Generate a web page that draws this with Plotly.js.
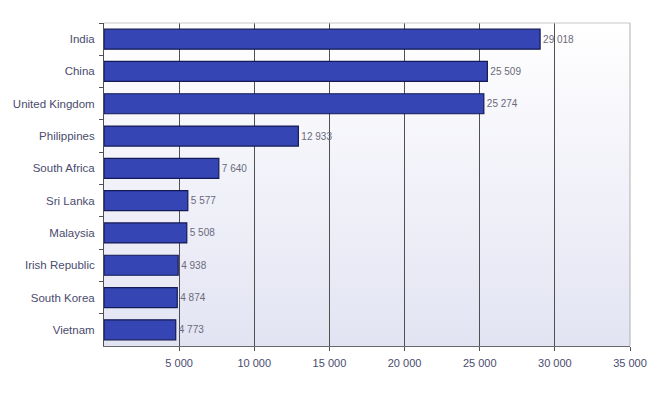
<!DOCTYPE html>
<html>
<head>
<meta charset="utf-8">
<script src="https://cdn.plot.ly/plotly-3.0.1.min.js"></script>
<style>html,body{margin:0;padding:0;background:#fff;}#chart{width:658px;height:393px;}</style>
</head>
<body>
<div id="chart"></div>
<script>
const countries = ["India","China","United Kingdom","Philippines","South Africa","Sri Lanka","Malaysia","Irish Republic","South Korea","Vietnam"];
const values = [29018,25509,25274,12933,7640,5577,5508,4938,4874,4773];
const xTicks = [5000,10000,15000,20000,25000,30000,35000];
const xTickLabels = ["5 000","10 000","15 000","20 000","25 000","30 000","35 000"];

const fmt = v => String(v).replace(/\B(?=(\d{3})+(?!\d))/g, " ");

const bgSvg = '<svg xmlns="http://www.w3.org/2000/svg" width="10" height="100" preserveAspectRatio="none"><defs><linearGradient id="g" x1="0" y1="0" x2="0" y2="1"><stop offset="0" stop-color="#ffffff"/><stop offset="1" stop-color="#e3e4f3"/></linearGradient></defs><rect width="10" height="100" fill="url(#g)"/></svg>';
const bgUri = 'data:image/svg+xml;base64,' + btoa(bgSvg);

const trace = {
  type: 'bar',
  orientation: 'h',
  y: countries,
  x: values,
  text: values.map(fmt),
  textposition: 'outside',
  cliponaxis: false,
  textfont: {family: 'Liberation Sans, Arial, sans-serif', size: 10, color: '#6a6a7a'},
  marker: {color: '#3545b4', line: {color: '#141a55', width: 1.2}},
  hoverinfo: 'none'
};

const layout = {
  width: 658, height: 393,
  margin: {l: 104, r: 28, t: 23, b: 47},
  paper_bgcolor: '#ffffff',
  plot_bgcolor: 'rgba(0,0,0,0)',
  showlegend: false,
  bargap: 0.38,
  font: {family: 'Liberation Sans, Arial, sans-serif', size: 11, color: '#4a4c6e'},
  images: [{source: bgUri, xref: 'paper', yref: 'paper', x: 0, y: 1, sizex: 1, sizey: 1, sizing: 'stretch', layer: 'below', xanchor: 'left', yanchor: 'top'}],
  xaxis: {
    range: [0, 35000],
    tickvals: xTicks,
    ticktext: xTickLabels,
    showgrid: true,
    gridcolor: '#505050',
    gridwidth: 1,
    zeroline: false,
    showline: true,
    linecolor: '#6a6a6a',
    linewidth: 1,
    mirror: false,
    ticks: 'outside',
    ticklen: 4,
    tickcolor: '#505050',
    ticklabelstandoff: 3,
    tickfont: {size: 11, color: '#4a4c6e'}
  },
  yaxis: {
    autorange: 'reversed',
    showgrid: false,
    zeroline: false,
    showline: true,
    linecolor: '#505050',
    linewidth: 1,
    ticks: 'outside',
    tickson: 'boundaries',
    ticklen: 4,
    tickcolor: '#505050',
    ticklabelstandoff: 6,
    tickfont: {size: 11.5, color: '#4a4c6e'}
  },
  shapes: [
    {type: 'line', xref: 'paper', yref: 'paper', x0: 0, x1: 1, y0: 1, y1: 1, line: {color: '#c8c8c8', width: 1}},
    {type: 'line', xref: 'paper', yref: 'paper', x0: 1, x1: 1, y0: 0, y1: 1, line: {color: '#b0b0b0', width: 1}}
  ]
};

Plotly.newPlot('chart', [trace], layout, {displayModeBar: false, staticPlot: true});
</script>
</body>
</html>
